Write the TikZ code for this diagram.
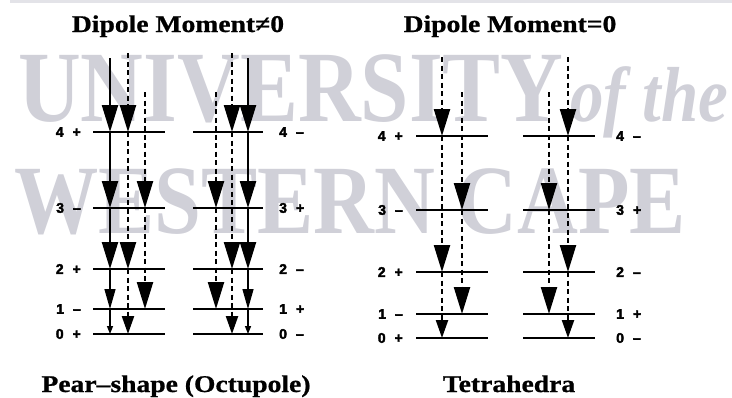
\documentclass[tikz,border=0pt]{standalone}
\usepackage{fontspec}
\setmainfont{Liberation Serif}
\newfontfamily\titlefont[FakeStretch=1.15,FakeBold=0.8]{Liberation Serif}
\newfontfamily\markfont[FakeStretch=0.86]{Liberation Serif}
\newfontfamily\labfont[FakeBold=2.5]{Liberation Sans}
\usetikzlibrary{arrows.meta}
\definecolor{wmgray}{RGB}{208,208,216}
\newcommand{\jpi}[2]{#1\hspace{9pt}#2}

\begin{document}
\begin{tikzpicture}[x=1pt,y=-1pt,
  levelline/.style={line width=2.5pt},
  trans/.style={line width=2.3pt},
  transd/.style={trans, dash pattern=on 5pt off 3.5pt},
  thintrans/.style={line width=1.4pt},
  headbig/.style={-{Triangle[length=27pt,width=16pt]}},
  headmid/.style={-{Triangle[length=20pt,width=11pt]}},
  headlow/.style={-{Triangle[length=18pt,width=12pt]}},
  headtiny/.style={-{Triangle[length=8pt,width=6pt]}},
  lvl/.style={font=\labfont\bfseries\fontsize{14}{16}\selectfont, inner sep=0pt},
  ttl/.style={font=\titlefont\bfseries\fontsize{24}{28}\selectfont, inner sep=0pt, anchor=base},
  wm/.style={text=wmgray, inner sep=0pt, anchor=base west}]
\useasboundingbox (0,0) rectangle (732,397);

% watermark of the scan
\begin{scope}
\clip (0,0) rectangle (732,397);
\draw[wmgray!60, line width=3pt] (10,1) -- (732,1);
\node[wm, font=\markfont\bfseries\fontsize{101}{101}\selectfont] (wmuni) at (18,121) {UNIVERSITY};
\node[wm, font=\markfont\bfseries\itshape\fontsize{78}{78}\selectfont] (wmof) at (570,121) {of the};
\node[wm, font=\markfont\bfseries\fontsize{98}{98}\selectfont] (wmcape) at (14,233) {WESTERN CAPE};
\end{scope}

% pear-shape: two bands of levels
\foreach \lv/\y in {4/132,3/208,2/269,1/309,0/334} {
  \draw[levelline] (93,\y) -- (165,\y);
  \draw[levelline] (193,\y) -- (263,\y);
  \foreach \c/\x in {a/110,b/128,c/145,d/216,e/232,f/248}
    \coordinate (p\c\lv) at (\x,\y);
}
\foreach \lv/\y/\sl/\sr in {4/132/+/–,3/208/–/+,2/269/+/–,1/309/–/+,0/334/+/–} {
  \node[lvl, anchor=east] (pl\lv) at (81,\y) {\jpi{\lv}{\sl}};
  \node[lvl, anchor=west] (pr\lv) at (279,\y) {\jpi{\lv}{\sr}};
}
\foreach \c/\x/\y in {a/110/58,b/128/53,c/145/92,d/216/92,e/232/53,f/248/58}
  \coordinate (p\c t) at (\x,\y);

% tetrahedra: two bands of levels
\foreach \lv/\y in {4/136,3/210,2/272,1/314,0/338} {
  \draw[levelline] (416,\y) -- (488,\y);
  \draw[levelline] (523,\y) -- (595,\y);
  \foreach \c/\x in {g/442,h/462,i/549,j/568}
    \coordinate (t\c\lv) at (\x,\y);
}
\foreach \lv/\y/\sl/\sr in {4/136/+/–,3/210/–/+,2/272/+/–,1/314/–/+,0/338/+/–} {
  \node[lvl, anchor=east] (tl\lv) at (403,\y) {\jpi{\lv}{\sl}};
  \node[lvl, anchor=west] (tr\lv) at (616,\y) {\jpi{\lv}{\sr}};
}
\foreach \c/\x/\y in {g/442/57,h/462/92,i/549/92,j/568/57}
  \coordinate (t\c t) at (\x,\y);

% transitions
\foreach \c in {a,f} {
  \draw[trans,headbig] (p\c t) -- (p\c4);
  \draw[trans,headbig] (p\c4) -- (p\c3);
  \draw[trans,headbig] (p\c3) -- (p\c2);
  \draw[thintrans,headmid] (p\c2) -- (p\c1);
  \draw[thintrans,headtiny] (p\c1) -- (p\c0);
}
\foreach \c in {b,e} {
  \draw[transd,headbig] (p\c t) -- (p\c4);
  \draw[transd,headbig] (p\c4) -- (p\c2);
  \draw[transd,headlow] (p\c2) -- (p\c0);
}
\foreach \c in {c,d} {
  \draw[transd,headbig] (p\c t) -- (p\c3);
  \draw[transd,headbig] (p\c3) -- (p\c1);
}
\foreach \c in {g,j} {
  \draw[transd,headbig] (t\c t) -- (t\c4);
  \draw[transd,headbig] (t\c4) -- (t\c2);
  \draw[transd,headlow] (t\c2) -- (t\c0);
}
\foreach \c in {h,i} {
  \draw[transd,headbig] (t\c t) -- (t\c3);
  \draw[transd,headbig] (t\c3) -- (t\c1);
}

\node[ttl] (dipyes) at (178,32) {Dipole Moment≠0};
\node[ttl] (dipno) at (510,32) {Dipole Moment=0};
\node[ttl] (pear) at (176,392) {Pear–shape (Octupole)};
\node[ttl] (tetra) at (509,392) {Tetrahedra};
\end{tikzpicture}
\end{document}
